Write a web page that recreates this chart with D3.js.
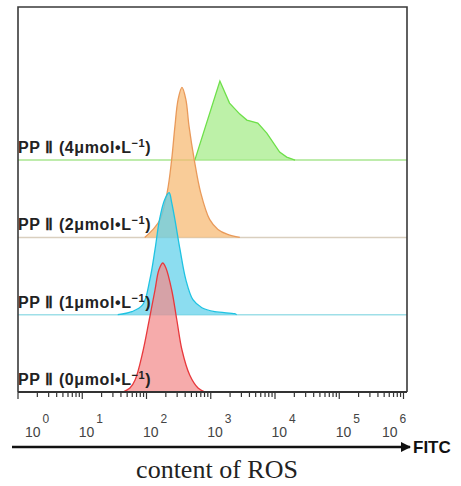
<!DOCTYPE html>
<html>
<head>
<meta charset="utf-8">
<script src="https://cdn.jsdelivr.net/npm/d3@7"></script>
<style>
  body { margin: 0; background: #fff; }
  svg { display: block; }
</style>
</head>
<body>
<div id="chart"></div>
<script>
// Histogram rows, bottom to top. Each point: [log10(FITC), relative count]
const rowLabels = ['0', '1', '2', '4'];
const red    = [[1.64,0],[1.75,4],[1.83,12],[1.95,40],[2.05,72],[2.14,102],[2.20,122],[2.26,129],[2.31,124],[2.40,102],[2.48,72],[2.56,42],[2.68,17],[2.81,4],[2.92,0]];
const cyan   = [[1.56,0],[1.78,3],[1.95,10],[2.06,35],[2.14,65],[2.21,95],[2.29,115],[2.36,122],[2.40,112],[2.45,95],[2.53,65],[2.62,35],[2.73,15],[2.87,7],[3.07,3],[3.38,1],[3.41,0]];
const orange = [[1.98,0],[2.11,8],[2.22,18],[2.33,45],[2.40,78],[2.45,111],[2.50,138],[2.56,150],[2.62,138],[2.67,111],[2.75,78],[2.85,45],[2.99,18],[3.12,8],[3.27,3],[3.46,0]];
const green  = [[2.76,0],[3.15,79],[3.30,57],[3.46,46],[3.57,40],[3.74,37],[3.88,27],[4.08,8],[4.19,3],[4.32,0]];
const series = [red, cyan, orange, green];
const decades = [0, 1, 2, 3, 4, 5, 6];

const fills   = ['#f28b8b', '#5fd0ea', '#f7b870', '#a3ec86'];
const strokes = ['#e8383c', '#1ec3e2', '#e99a5a', '#6ee04a'];
const baseCol = ['#333', '#9fdfe8', '#d9cfbf', '#a8e690'];
const curves  = [d3.curveCatmullRom.alpha(0.5), d3.curveCatmullRom.alpha(0.5), d3.curveCatmullRom.alpha(0.5), d3.curveLinear];

const W = 461, H = 486;
const frameL = 18, frameR = 407, frameT = 7, frameB = 392;
const rowStep = 77.3;

const svg = d3.select('#chart').append('svg').attr('width', W).attr('height', H);

const x = d3.scaleLog().domain([1, 1e6]).range([17.5, 403]);
const y = d3.scaleLinear().domain([0, 150]).range([0, 150]);
const base = i => frameB - i * rowStep;

// Curves, top row first so lower rows sit on top
const area = i => d3.area()
  .x(d => x(Math.pow(10, d[0])))
  .y0(base(i))
  .y1(d => base(i) - y(d[1]))
  .curve(curves[i]);
const line = i => d3.line()
  .x(d => x(Math.pow(10, d[0])))
  .y(d => base(i) - y(d[1]))
  .curve(curves[i]);

for (let i = series.length - 1; i >= 0; i--) {
  if (i > 0) {
    svg.append('line')
      .attr('x1', frameL).attr('x2', frameR)
      .attr('y1', base(i)).attr('y2', base(i))
      .attr('stroke', baseCol[i]).attr('stroke-width', 1.5);
  }
  svg.append('path').datum(series[i])
    .attr('d', area(i))
    .attr('fill', fills[i]).attr('fill-opacity', 0.72);
  svg.append('path').datum(series[i])
    .attr('d', line(i))
    .attr('fill', 'none').attr('stroke', strokes[i]).attr('stroke-width', 1.3);
}

// Frame (left, top, right)
svg.append('path')
  .attr('d', `M${frameL},${frameB}V${frameT}H${frameR}V${frameB}`)
  .attr('fill', 'none').attr('stroke', '#3a3a3a').attr('stroke-width', 1.6);

// Log axis with minor ticks
const minor = [];
decades.slice(0, -1).forEach(e => { for (let m = 2; m < 10; m++) minor.push(m * Math.pow(10, e)); });
const gMinor = svg.append('g').attr('transform', `translate(0,${frameB})`)
  .call(d3.axisBottom(x).tickValues(minor).tickSize(5).tickFormat(''));
const gMajor = svg.append('g').attr('transform', `translate(0,${frameB})`)
  .call(d3.axisBottom(x).tickValues(decades.map(e => Math.pow(10, e))).tickSize(7).tickFormat(''));
[gMinor, gMajor].forEach(g => {
  g.select('.domain').remove();
  g.selectAll('line').attr('stroke', '#333').attr('stroke-width', 1.2);
});
svg.append('line')
  .attr('x1', frameL).attr('x2', frameR).attr('y1', frameB).attr('y2', frameB)
  .attr('stroke', '#333').attr('stroke-width', 1.8);

// Tick labels: 10 with superscript exponent
decades.forEach((e, k) => {
  let tx = x(Math.pow(10, e)) - 3;
  if (k === 0) tx += 10.5;
  if (k === decades.length - 1) tx -= 18;
  const t = svg.append('text')
    .attr('x', tx).attr('y', 437)
    .attr('font-family', 'Liberation Sans, Arial, sans-serif')
    .attr('font-size', 14).attr('fill', '#444');
  t.append('tspan').text('10');
  t.append('tspan').attr('dx', 2).attr('dy', -14).attr('font-size', 12).text(e);
});

// Arrow and axis labels
svg.append('defs').append('marker')
  .attr('id', 'arr').attr('viewBox', '0 0 10 10').attr('refX', 9).attr('refY', 5)
  .attr('markerWidth', 4).attr('markerHeight', 4).attr('orient', 'auto')
  .append('path').attr('d', 'M0,0L10,5L0,10z').attr('fill', '#111');
svg.append('line')
  .attr('x1', 12).attr('x2', 410).attr('y1', 447).attr('y2', 447)
  .attr('stroke', '#111').attr('stroke-width', 2.6)
  .attr('marker-end', 'url(#arr)');
svg.append('text')
  .attr('x', 413).attr('y', 453)
  .attr('font-family', 'Liberation Sans, Arial, sans-serif')
  .attr('font-weight', 'bold').attr('font-size', 17).attr('fill', '#111')
  .text('FITC');
svg.append('text')
  .attr('x', 217).attr('y', 478).attr('text-anchor', 'middle')
  .attr('font-family', 'Liberation Serif, Times New Roman, serif')
  .attr('font-size', 26).attr('fill', '#222')
  .text('content of ROS');

// Row labels
rowLabels.forEach((c, i) => {
  const t = svg.append('text')
    .attr('x', frameL).attr('y', base(i) - 7)
    .attr('font-family', 'Liberation Sans, Arial, sans-serif')
    .attr('font-weight', 'bold').attr('font-size', 16).attr('fill', '#222')
    .attr('letter-spacing', 0.6);
  t.append('tspan').text(`PP Ⅱ (${c}μmol•L`);
  t.append('tspan').attr('dy', -6).attr('font-size', 11).text('−1');
  t.append('tspan').attr('dy', 6).text(')');
});
</script>
</body>
</html>
